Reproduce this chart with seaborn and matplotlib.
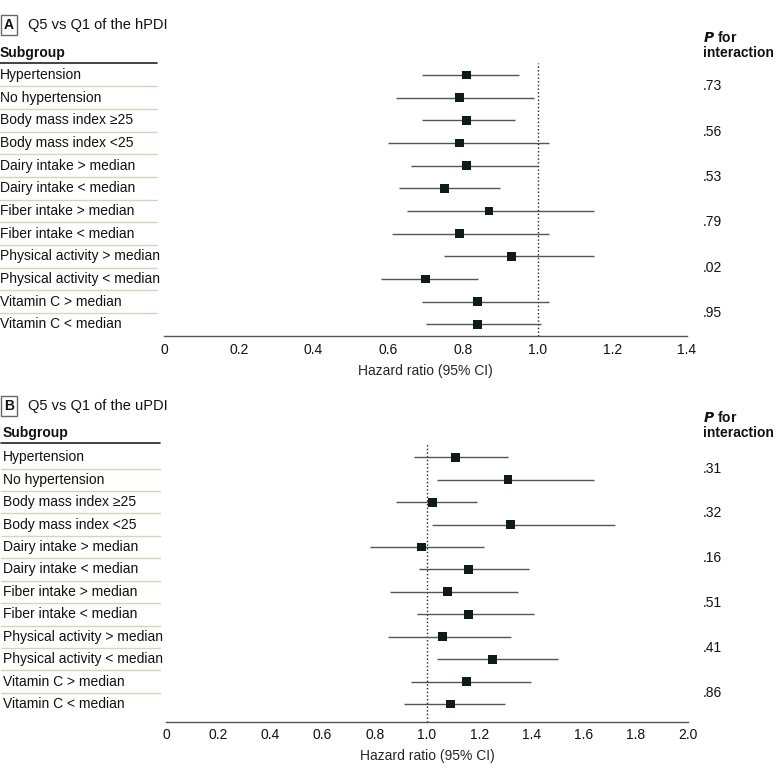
import numpy as np
import pandas as pd
import matplotlib
matplotlib.use('Agg')
import matplotlib.pyplot as plt
import matplotlib.transforms as mtransforms
from matplotlib.lines import Line2D
import seaborn as sns

sns.set_theme(style='white')
plt.rcParams['font.family'] = ['Liberation Sans Narrow', 'Liberation Sans', 'DejaVu Sans']

# 数据
subgroups = ["Hypertension", "No hypertension", "Body mass index ≥25", "Body mass index <25",
             "Dairy intake > median", "Dairy intake < median", "Fiber intake > median",
             "Fiber intake < median", "Physical activity > median", "Physical activity < median",
             "Vitamin C > median", "Vitamin C < median"]

hpdi_hr = [0.81, 0.79, 0.81, 0.79, 0.81, 0.75, 0.87, 0.79, 0.93, 0.70, 0.84, 0.84]
hpdi_lo = [0.69, 0.62, 0.69, 0.60, 0.66, 0.63, 0.65, 0.61, 0.75, 0.58, 0.69, 0.70]
hpdi_hi = [0.95, 0.99, 0.94, 1.03, 1.00, 0.90, 1.15, 1.03, 1.15, 0.84, 1.03, 1.01]
hpdi_p = [".73", ".56", ".53", ".79", ".02", ".95"]
hpdi_ticks = [0, 0.2, 0.4, 0.6, 0.8, 1.0, 1.2, 1.4]

updi_hr = [1.11, 1.31, 1.02, 1.32, 0.98, 1.16, 1.08, 1.16, 1.06, 1.25, 1.15, 1.09]
updi_lo = [0.95, 1.04, 0.88, 1.02, 0.78, 0.97, 0.86, 0.96, 0.85, 1.04, 0.94, 0.91]
updi_hi = [1.31, 1.64, 1.19, 1.72, 1.22, 1.39, 1.35, 1.41, 1.32, 1.50, 1.40, 1.30]
updi_p = [".31", ".32", ".16", ".51", ".41", ".86"]
updi_ticks = [0, 0.2, 0.4, 0.6, 0.8, 1.0, 1.2, 1.4, 1.6, 1.8, 2.0]

W, H = 780, 782
fig = plt.figure(figsize=(W / 100, H / 100), dpi=100)

SEP_COLOR = '#d9d3bd'
LINE_COLOR = '#555555'
MARK_COLOR = '#0f1a1a'
FS = 10


def panel(letter, title, hr, lo, hi, pvals, ticks, x0, x1, row0, step, axis_y, top_y,
          lab_x, title_y):
    n = len(subgroups)
    y_bottom = (n - 1) + (axis_y - (row0 + step * (n - 1))) / step
    y_top = -(row0 - top_y) / step
    ax = fig.add_axes([x0 / W, 1 - axis_y / H, (x1 - x0) / W, (axis_y - top_y) / H])
    df = pd.DataFrame({'subgroup': subgroups, 'hr': hr, 'lo': lo, 'hi': hi, 'row': np.arange(n)})

    ax.hlines(df['row'], df['lo'], df['hi'], color=LINE_COLOR, lw=1.0, zorder=2)
    sns.scatterplot(data=df, x='hr', y='row', marker='s', s=40, color=MARK_COLOR,
                    edgecolor='none', ax=ax, zorder=3, legend=False)
    ax.axvline(1.0, color='#222222', ls=':', lw=1.0, zorder=1)

    ax.set_xlim(ticks[0], ticks[-1])
    ax.set_ylim(y_bottom, y_top)
    ax.set_xticks(ticks)
    ax.set_xticklabels(['0' if t == 0 else f'{t:.1f}' for t in ticks], fontsize=FS)
    ax.set_yticks([])
    ax.set_ylabel('')
    ax.set_xlabel('Hazard ratio (95% CI)', fontsize=FS, labelpad=5)
    for s in ['top', 'right', 'left']:
        ax.spines[s].set_visible(False)
    ax.spines['bottom'].set_color(LINE_COLOR)
    ax.spines['bottom'].set_linewidth(1.0)
    ax.tick_params(axis='x', direction='in', length=4, width=1.0, color=LINE_COLOR, pad=5,
                   labelcolor='#111111')
    ax.patch.set_alpha(0)

    tr = mtransforms.blended_transform_factory(fig.transFigure, ax.transData)
    # 子组标签
    for i, name in enumerate(subgroups):
        ax.text(lab_x / W, i, name, transform=tr, fontsize=FS, va='center', ha='left',
                color='#111111', clip_on=False)
        if i < n - 1:
            ax.add_line(Line2D([lab_x / W - 2 / W, 157 / W + lab_x / W], [i + 0.5, i + 0.5],
                               transform=tr, color=SEP_COLOR, lw=1.0, clip_on=False))
    head_line = -(row0 - (top_y - 0.3)) / step
    ax.add_line(Line2D([lab_x / W - 2 / W, 157 / W + lab_x / W], [head_line, head_line],
                       transform=tr, color='#222222', lw=1.2, clip_on=False))
    sub_y = -(row0 - (top_y - 10)) / step
    ax.text(lab_x / W, sub_y, 'Subgroup', transform=tr, fontsize=FS, fontweight='bold',
            va='center', ha='left', color='#111111', clip_on=False)

    # P for interaction
    ax.text(703 / W, sub_y, 'interaction', transform=tr, fontsize=FS, fontweight='bold',
            va='center', ha='left', color='#111111', clip_on=False)
    ax.text(703 / W, sub_y - 16 / step, r'$\bfit{P}$ for', transform=tr, fontsize=FS,
            fontweight='bold', va='center', ha='left', color='#111111', clip_on=False)
    for k, p in enumerate(pvals):
        ax.text(703 / W, 2 * k + 0.5, p, transform=tr, fontsize=FS, va='center', ha='left',
                color='#111111', clip_on=False)

    # 面板标题
    fig.text(9 / W, 1 - title_y / H, letter, fontsize=FS, fontweight='bold', va='center',
             ha='center', color='#111111',
             bbox=dict(boxstyle='square,pad=0.25', fc='white', ec='#666666', lw=1.0))
    fig.text(28 / W, 1 - title_y / H, title, fontsize=FS + 0.5, va='center', ha='left',
             color='#111111')
    return ax


panel('A', 'Q5 vs Q1 of the hPDI', hpdi_hr, hpdi_lo, hpdi_hi, hpdi_p, hpdi_ticks,
      164, 687, 75.0, 22.66, 336, 63, 0, 25)
panel('B', 'Q5 vs Q1 of the uPDI', updi_hr, updi_lo, updi_hi, updi_p, updi_ticks,
      166, 688, 457.3, 22.43, 721.5, 443, 3, 406)

fig.savefig('out.png', dpi=100)
